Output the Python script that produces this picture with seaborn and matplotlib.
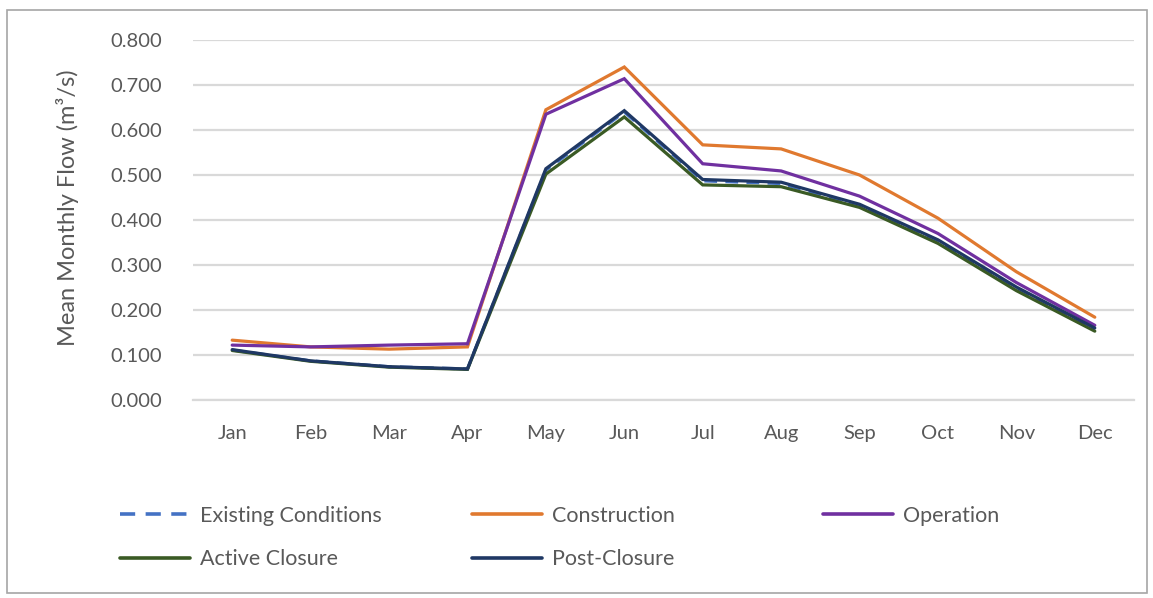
import matplotlib
matplotlib.use("Agg")
import matplotlib.pyplot as plt
from matplotlib.patches import Rectangle
from matplotlib.lines import Line2D
import seaborn as sns
import pandas as pd

months = ["Jan", "Feb", "Mar", "Apr", "May", "Jun",
          "Jul", "Aug", "Sep", "Oct", "Nov", "Dec"]
existing = [0.111, 0.087, 0.074, 0.069, 0.511, 0.640, 0.487, 0.481, 0.432, 0.353, 0.248, 0.158]
construction = [0.133, 0.118, 0.113, 0.118, 0.645, 0.740, 0.567, 0.558, 0.500, 0.404, 0.285, 0.184]
operation = [0.122, 0.118, 0.122, 0.125, 0.635, 0.714, 0.525, 0.509, 0.453, 0.370, 0.261, 0.166]
active_closure = [0.110, 0.086, 0.073, 0.068, 0.502, 0.629, 0.478, 0.474, 0.428, 0.348, 0.243, 0.153]
post_closure = [0.112, 0.087, 0.074, 0.069, 0.514, 0.643, 0.490, 0.484, 0.435, 0.356, 0.251, 0.160]

series_names = ["Existing Conditions", "Construction", "Operation",
                "Active Closure", "Post-Closure"]
series_values = [existing, construction, operation, active_closure, post_closure]
colors = {"Existing Conditions": "#4472C4", "Construction": "#E0792F",
          "Operation": "#7030A0", "Active Closure": "#3A5A24",
          "Post-Closure": "#1F3864"}
dash_styles = {"Existing Conditions": (0, (4, 2.6))}
legend_dash_styles = {"Existing Conditions": (0, (4.2, 2.9))}

df = pd.DataFrame({
    "Month": months * len(series_names),
    "Flow": [v for vals in series_values for v in vals],
    "Scenario": [n for n in series_names for _ in months],
})
df["x"] = df["Month"].map({m: i for i, m in enumerate(months)})

sns.set_theme(style="white")
plt.rcParams["font.family"] = ["Lato", "DejaVu Sans"]
text_grey = "#595959"
grid_grey = "#D9D9D9"

fig = plt.figure(figsize=(11.53, 5.98), dpi=100)
ax = fig.add_axes([193 / 1153, 1 - 400 / 598, (1134 - 193) / 1153, 360 / 598])

for name in series_names:
    sub = df[df["Scenario"] == name]
    sns.lineplot(data=sub, x="x", y="Flow", ax=ax, color=colors[name],
                 linewidth=2.3, sort=False, legend=False)
    ls = dash_styles.get(name, "-")
    ax.lines[-1].set_linestyle(ls)
    ax.lines[-1].set_solid_joinstyle("miter")

ax.set_xlim(-0.5, len(months) - 0.5)
ax.set_ylim(0, 0.8)
ax.set_yticks([i / 10 for i in range(9)])
ax.set_yticklabels([f"{i / 10:.3f}" for i in range(9)])
ax.set_xticks(range(len(months)))
ax.set_xticklabels(months)
ax.yaxis.grid(True, color=grid_grey, linewidth=1.6)
ax.set_axisbelow(True)
for side in ["top", "right", "left"]:
    ax.spines[side].set_visible(False)
ax.spines["bottom"].set_color(grid_grey)
ax.spines["bottom"].set_linewidth(1.6)
ax.tick_params(axis="both", length=0, labelsize=14.5, labelcolor=text_grey)
ax.tick_params(axis="x", pad=18)
ax.tick_params(axis="y", pad=22)
ax.set_xlabel("")
ax.set_ylabel("Mean Monthly Flow (m³/s)", fontsize=17, color=text_grey)
ax.yaxis.set_label_coords(-0.121, 0.535)

# legend laid out as three equal-width columns
columns = [["Existing Conditions", "Active Closure"],
           ["Construction", "Post-Closure"],
           ["Operation"]]
col_x = [120 / 1153, 472 / 1153, 823 / 1153]
for cx, names in zip(col_x, columns):
    handles = [Line2D([], [], color=colors[n], linewidth=2.6,
                      linestyle=legend_dash_styles.get(n, "-")) for n in names]
    leg = fig.legend(handles, names, loc="upper left", bbox_to_anchor=(cx, 1 - 506 / 598),
                     frameon=False, fontsize=15.5, handlelength=3.25, handletextpad=0.45,
                     labelspacing=1.08, borderaxespad=0, borderpad=0)
    for t in leg.get_texts():
        t.set_color(text_grey)

fig.patches.append(Rectangle((7 / 1153, 1 - 593 / 598), (1147 - 7) / 1153, (593 - 10) / 598,
                             transform=fig.transFigure, fill=False,
                             edgecolor="#A6A6A6", linewidth=1.2))

fig.savefig("out.png", dpi=100)
